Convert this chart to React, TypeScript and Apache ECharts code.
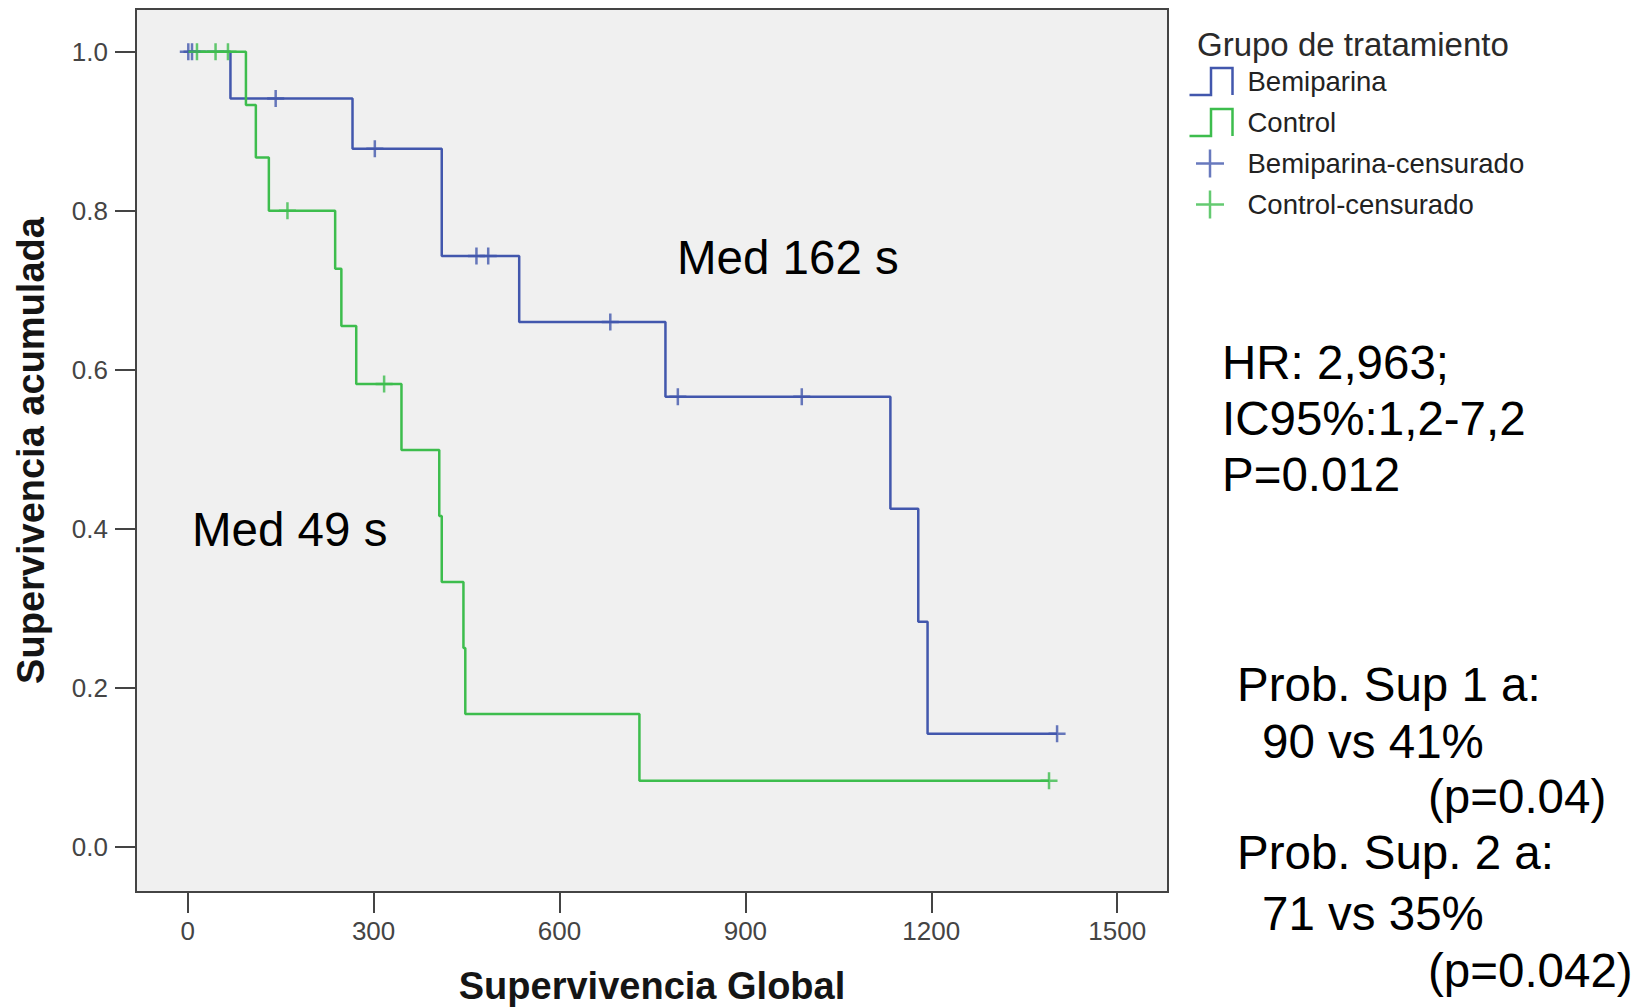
import React, { useEffect, useRef } from "react";
import * as echarts from "echarts";

// ---- data ----
const xTicks = [0, 300, 600, 900, 1200, 1500];
const yTicks = [0, 0.2, 0.4, 0.6, 0.8, 1.0];

// Kaplan-Meier step curves [time, cumulative survival]
const bemiparinaCurve: [number, number][] = [
  [0, 1], [69, 0.941], [266, 0.878], [410, 0.743], [535, 0.66], [771, 0.566],
  [1134, 0.425], [1179, 0.283], [1194, 0.142], [1403, 0.142],
];
const controlCurve: [number, number][] = [
  [0, 1], [94, 0.933], [110, 0.867], [131, 0.8], [238, 0.727], [248, 0.655],
  [272, 0.582], [345, 0.499], [406, 0.416], [410, 0.333], [445, 0.25],
  [448, 0.167], [729, 0.083], [1390, 0.083],
];
// censored observations
const bemiparinaCensored: [number, number][] = [
  [1, 1], [7, 1], [142, 0.941], [302, 0.878], [466, 0.743], [485, 0.743],
  [682, 0.66], [791, 0.566], [991, 0.566], [1403, 0.142],
];
const controlCensored: [number, number][] = [
  [15, 1], [45, 1], [65, 1], [161, 0.8], [317, 0.582], [1390, 0.083],
];

const seriesNames = ["Bemiparina", "Control", "Bemiparina-censurado", "Control-censurado"];
const legendTitle = "Grupo de tratamiento";
const xTitle = "Supervivencia Global";
const yTitle = "Supervivencia acumulada";

const annotations = [
  { text: "Med 162 s", x: 677, y: 257 },
  { text: "Med 49 s", x: 192, y: 529 },
  { text: "HR: 2,963;", x: 1222, y: 362 },
  { text: "IC95%:1,2-7,2", x: 1222, y: 418 },
  { text: "P=0.012", x: 1222, y: 474 },
  { text: "Prob. Sup 1 a:", x: 1237, y: 684 },
  { text: "90 vs 41%", x: 1262, y: 741 },
  { text: "(p=0.04)", x: 1428, y: 796 },
  { text: "Prob. Sup. 2 a:", x: 1237, y: 852 },
  { text: "71 vs 35%", x: 1262, y: 913 },
  { text: "(p=0.042)", x: 1428, y: 970 },
];

const BLUE = "#4257ad";
const GREEN = "#3dbd4d";
const FONT = "'Liberation Sans', Arial, Helvetica, sans-serif";

const stepIcon = "path://M0,0M53,30M0,28.5H21.5V1.5H43V28.5";
const plusIcon = "path://M0,0M53,30M6.5,15H34.5M20.5,1V29";
const plusSymbol = "path://M0,5H10M5,0V10";

export default function App() {
  const ref = useRef<HTMLDivElement>(null);

  useEffect(() => {
    if (!ref.current) return;
    const chart = echarts.init(ref.current, undefined, { renderer: "svg" });

    const option: any = {
      animation: false,
      backgroundColor: "#ffffff",
      textStyle: { fontFamily: FONT },
      grid: {
        left: 136,
        top: 9,
        width: 1032,
        height: 883,
        show: true,
        backgroundColor: "#f0f0f0",
        borderColor: "#444444",
        borderWidth: 2,
        containLabel: false,
        outerBoundsMode: "none",
      },
      xAxis: {
        type: "value",
        min: -83.4,
        max: 1582,
        axisLine: { show: false, onZero: false },
        splitLine: { show: false },
        axisTick: {
          show: true,
          inside: false,
          length: 21,
          customValues: xTicks,
          lineStyle: { color: "#444444", width: 2 },
        },
        axisLabel: {
          customValues: xTicks,
          margin: 26,
          fontSize: 26,
          color: "#444444",
          fontFamily: FONT,
          formatter: (v: number) => String(v),
        },
        name: xTitle,
        nameLocation: "middle",
        nameGap: 75,
        nameTextStyle: { fontSize: 38, lineHeight: 38, fontWeight: "bold", color: "#151515", fontFamily: FONT },
      },
      yAxis: {
        type: "value",
        min: -0.057,
        max: 1.0537,
        axisLine: { show: false, onZero: false },
        splitLine: { show: false },
        axisTick: {
          show: true,
          inside: false,
          length: 21,
          customValues: yTicks,
          lineStyle: { color: "#444444", width: 2 },
        },
        axisLabel: {
          customValues: yTicks,
          margin: 28,
          fontSize: 26,
          color: "#444444",
          fontFamily: FONT,
          formatter: (v: number) => v.toFixed(1),
        },
        name: yTitle,
        nameLocation: "middle",
        nameRotate: 90,
        nameGap: 86,
        nameTextStyle: { fontSize: 38, fontWeight: "bold", color: "#151515", fontFamily: FONT },
      },
      legend: {
        orient: "vertical",
        left: 1187,
        top: 64,
        padding: 0,
        itemWidth: 53,
        itemHeight: 30,
        itemGap: 6,
        selectedMode: false,
        textStyle: { fontSize: 27.5, color: "#222222", fontFamily: FONT },
        data: [
          { name: seriesNames[0], icon: stepIcon, itemStyle: { color: "none", borderColor: BLUE, borderWidth: 2.5 } },
          { name: seriesNames[1], icon: stepIcon, itemStyle: { color: "none", borderColor: GREEN, borderWidth: 2.5 } },
          { name: seriesNames[2], icon: plusIcon, itemStyle: { color: "none", borderColor: BLUE, borderWidth: 2.5 } },
          { name: seriesNames[3], icon: plusIcon, itemStyle: { color: "none", borderColor: GREEN, borderWidth: 2.5 } },
        ],
      },
      series: [
        {
          name: seriesNames[0],
          type: "line",
          step: "end",
          data: bemiparinaCurve,
          showSymbol: false,
          symbol: "none",
          color: BLUE,
          lineStyle: { color: BLUE, width: 2.5 },
          z: 2,
        },
        {
          name: seriesNames[1],
          type: "line",
          step: "end",
          data: controlCurve,
          showSymbol: false,
          symbol: "none",
          color: GREEN,
          lineStyle: { color: GREEN, width: 2.5 },
          z: 3,
        },
        {
          name: seriesNames[2],
          type: "scatter",
          data: bemiparinaCensored,
          symbol: plusSymbol,
          symbolSize: 17,
          color: BLUE,
          itemStyle: { color: "none", borderColor: BLUE, borderWidth: 2.5 },
          z: 4,
        },
        {
          name: seriesNames[3],
          type: "scatter",
          data: controlCensored,
          symbol: plusSymbol,
          symbolSize: 17,
          color: GREEN,
          itemStyle: { color: "none", borderColor: GREEN, borderWidth: 2.5 },
          z: 5,
        },
      ],
      graphic: [
        {
          type: "text",
          x: 1197,
          y: 44,
          style: {
            text: legendTitle,
            fontSize: 33,
            fontFamily: FONT,
            fill: "#2a2a2a",
            align: "left",
            verticalAlign: "middle",
          },
        },
        ...annotations.map((a) => ({
          type: "text",
          x: a.x,
          y: a.y,
          z: 10,
          style: {
            text: a.text,
            fontSize: 47.5,
            fontFamily: FONT,
            fill: "#000000",
            align: "left",
            verticalAlign: "middle",
          },
        })),
      ],
    };

    chart.setOption(option);
    return () => {
      chart.dispose();
    };
  }, []);

  return (
    <div
      ref={ref}
      style={{ position: "absolute", left: 0, top: 0, width: 1648, height: 1007, background: "#fff" }}
    />
  );
}
